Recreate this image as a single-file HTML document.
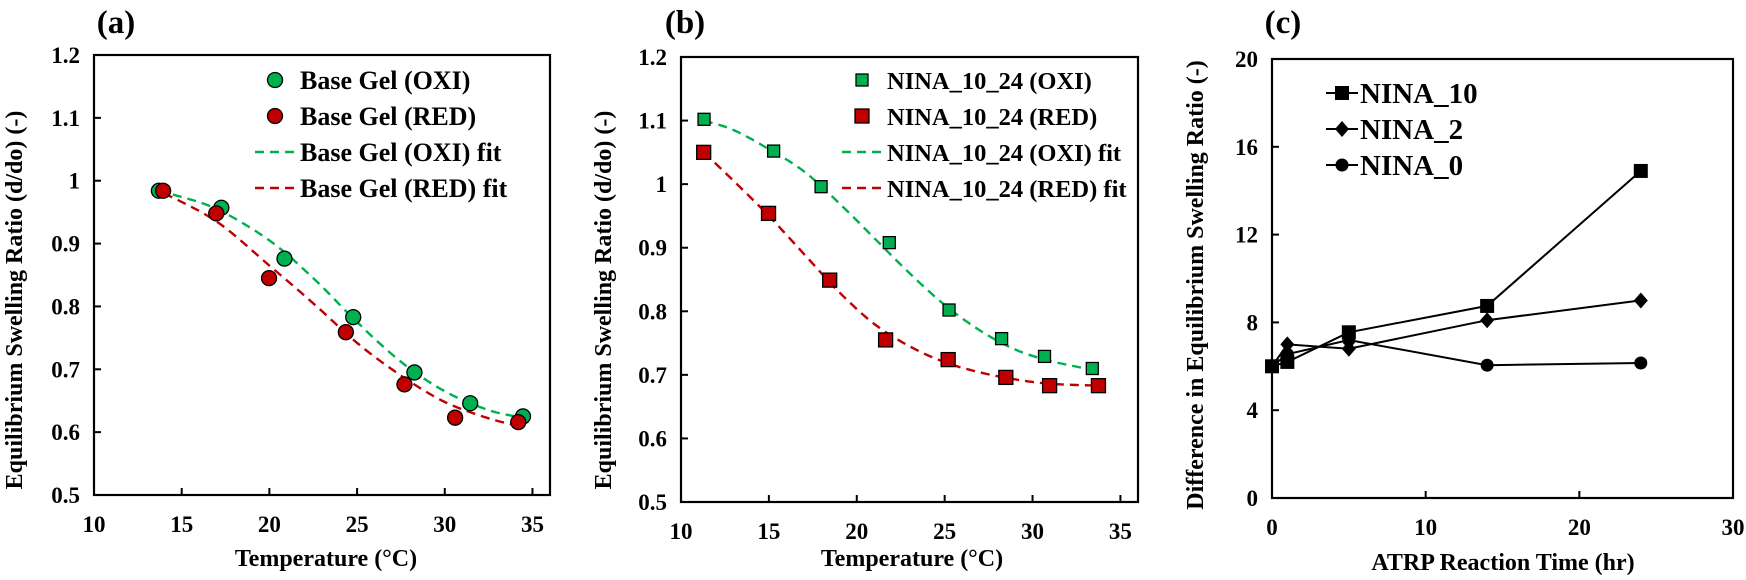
<!DOCTYPE html>
<html><head><meta charset="utf-8"><style>
html,body{margin:0;padding:0;background:#fff;}
svg text{font-family:"Liberation Serif",serif;font-weight:bold;fill:#000;}
</style></head><body>
<svg id="s" width="1746" height="575" viewBox="0 0 1746 575" xmlns="http://www.w3.org/2000/svg">
<text x="116" y="33" font-size="33" text-anchor="middle">(a)</text>
<text x="685" y="33" font-size="33" text-anchor="middle">(b)</text>
<text x="1283" y="33" font-size="33" text-anchor="middle">(c)</text>
<text x="326" y="566" font-size="24" text-anchor="middle">Temperature (°C)</text>
<text x="912" y="566" font-size="24" text-anchor="middle">Temperature (°C)</text>
<text x="1503" y="570" font-size="24" text-anchor="middle">ATRP Reaction Time (hr)</text>
<text transform="translate(22,300) rotate(-90)" font-size="24" text-anchor="middle">Equilibrium Swelling Ratio (d/do) (-)</text>
<text transform="translate(611,300) rotate(-90)" font-size="24" text-anchor="middle">Equilibrium Swelling Ratio (d/do) (-)</text>
<text transform="translate(1203,285) rotate(-90)" font-size="24" text-anchor="middle">Difference in  Equilibrium Swelling Ratio (-)</text>
<g id="g"></g>
</svg>
<script>
var g=document.getElementById('g'),NS='http://www.w3.org/2000/svg';
function el(t,a,txt){var e=document.createElementNS(NS,t);for(var k in a)e.setAttribute(k,a[k]);if(txt!=null)e.textContent=txt;g.appendChild(e);return e;}
function panel(P){
 var X=function(v){return P.l+(v-P.x0)/(P.x1-P.x0)*(P.r-P.l)},Y=function(v){return P.b-(v-P.y0)/(P.y1-P.y0)*(P.b-P.t)};
 P.X=X;P.Y=Y;
 el('rect',{x:P.l,y:P.t,width:P.r-P.l,height:P.b-P.t,fill:'none',stroke:'#000','stroke-width':2.2});
 P.xt.forEach(function(v){var x=X(v);el('line',{x1:x,x2:x,y1:P.b,y2:P.b-7,stroke:'#000','stroke-width':2});el('text',{x:x,y:P.b+37,'font-size':23,'text-anchor':'middle'},v);});
 P.yt.forEach(function(v){var y=Y(v);el('line',{x1:P.l,x2:P.l+7,y1:y,y2:y,stroke:'#000','stroke-width':2});el('text',{x:P.l-14,y:y+8,'font-size':23,'text-anchor':'end'},P.yf(v));});
 return P;}
function fmt(v){v=Math.round(v*10)/10;return v==1?'1':v.toFixed(1);}
function path(P,pts,col,dash){var d=pts.map(function(p,i){return (i?'L':'M')+P.X(p[0]).toFixed(1)+','+P.Y(p[1]).toFixed(1)}).join('');el('path',{d:d,fill:'none',stroke:col,'stroke-width':dash?2.4:2,'stroke-dasharray':dash||''});}
function smooth(pts){var o=[];for(var i=0;i<pts.length-1;i++){var p0=pts[i-1]||pts[i],p1=pts[i],p2=pts[i+1],p3=pts[i+2]||p2;for(var t=0;t<1;t+=0.1){var t2=t*t,t3=t2*t;o.push([0.5*(2*p1[0]+(-p0[0]+p2[0])*t+(2*p0[0]-5*p1[0]+4*p2[0]-p3[0])*t2+(-p0[0]+3*p1[0]-3*p2[0]+p3[0])*t3),0.5*(2*p1[1]+(-p0[1]+p2[1])*t+(2*p0[1]-5*p1[1]+4*p2[1]-p3[1])*t2+(-p0[1]+3*p1[1]-3*p2[1]+p3[1])*t3)]);}}o.push(pts[pts.length-1]);return o;}
var G='#00b050',R='#c00000';
var A=panel({l:94,r:550,t:55,b:495,x0:10,x1:36,y0:0.5,y1:1.2,xt:[10,15,20,25,30,35],yt:[0.5,0.6,0.7,0.8,0.9,1.0,1.1,1.2],yf:fmt});
path(A,smooth([[14.5,0.978],[17,0.955],[20,0.905],[22.5,0.845],[25,0.775],[27.5,0.712],[30,0.665],[32.5,0.635],[34.3,0.624]]),G,'9,6');
path(A,smooth([[14,0.98],[17,0.935],[20,0.865],[22.5,0.805],[25,0.742],[27.5,0.69],[30,0.648],[32.5,0.622],[34.2,0.61]]),R,'9,6');
[[13.7,0.984],[17.26,0.957],[20.86,0.876],[24.78,0.783],[28.27,0.695],[31.45,0.646],[34.46,0.625]].forEach(function(p){el('circle',{cx:A.X(p[0]),cy:A.Y(p[1]),r:7.5,fill:G,stroke:'#000','stroke-width':1.3});});
[[13.94,0.984],[16.97,0.948],[19.98,0.845],[24.36,0.759],[27.7,0.676],[30.59,0.623],[34.19,0.616]].forEach(function(p){el('circle',{cx:A.X(p[0]),cy:A.Y(p[1]),r:7.5,fill:R,stroke:'#000','stroke-width':1.3});});
el('circle',{cx:275,cy:80,r:7.5,fill:G,stroke:'#000','stroke-width':1.3});
el('circle',{cx:275,cy:116,r:7.5,fill:R,stroke:'#000','stroke-width':1.3});
el('line',{x1:255,x2:298,y1:152,y2:152,stroke:G,'stroke-width':2.4,'stroke-dasharray':'9,6'});
el('line',{x1:255,x2:298,y1:188,y2:188,stroke:R,'stroke-width':2.4,'stroke-dasharray':'9,6'});
['Base Gel (OXI)','Base Gel (RED)','Base Gel (OXI) fit','Base Gel (RED) fit'].forEach(function(s,i){el('text',{x:300,y:89+i*36,'font-size':26},s);});
var B=panel({l:681,r:1138,t:57,b:502,x0:10,x1:36,y0:0.5,y1:1.2,xt:[10,15,20,25,30,35],yt:[0.5,0.6,0.7,0.8,0.9,1.0,1.1,1.2],yf:fmt});
path(B,smooth([[11.3,1.1],[13,1.085],[15,1.055],[17,1.02],[19,0.97],[21,0.915],[23,0.86],[25,0.81],[27,0.77],[29,0.74],[31,0.722],[33.4,0.708]]),G,'9,6');
path(B,smooth([[11.3,1.05],[13,1.005],[15,0.95],[17,0.89],[19,0.83],[21,0.78],[23,0.745],[25,0.72],[27,0.704],[29,0.693],[31,0.686],[33.8,0.683]]),R,'9,6');
function sq(x,y,s,f){el('rect',{x:x-s/2,y:y-s/2,width:s,height:s,fill:f,stroke:'#000','stroke-width':1.3});}
[[11.31,1.102],[15.27,1.052],[17.97,0.996],[21.85,0.908],[25.25,0.802],[28.24,0.757],[30.68,0.729],[33.4,0.71]].forEach(function(p){sq(B.X(p[0]),B.Y(p[1]),12,G);});
[[11.29,1.05],[14.98,0.954],[18.46,0.849],[21.64,0.755],[25.2,0.724],[28.48,0.696],[30.97,0.683],[33.75,0.683]].forEach(function(p){sq(B.X(p[0]),B.Y(p[1]),14,R);});
sq(862,80,12,G);sq(862,116,14,R);
el('line',{x1:842,x2:885,y1:152,y2:152,stroke:G,'stroke-width':2.4,'stroke-dasharray':'9,6'});
el('line',{x1:842,x2:885,y1:188,y2:188,stroke:R,'stroke-width':2.4,'stroke-dasharray':'9,6'});
['NINA_10_24 (OXI)','NINA_10_24 (RED)','NINA_10_24 (OXI) fit','NINA_10_24 (RED) fit'].forEach(function(s,i){el('text',{x:887,y:89+i*36,'font-size':24.5},s);});
var C=panel({l:1272,r:1733,t:59,b:498,x0:0,x1:30,y0:0,y1:20,xt:[0,10,20,30],yt:[0,4,8,12,16,20],yf:function(v){return v;}});
function dia(x,y){el('path',{d:'M'+x+','+(y-8)+'L'+(x+7)+','+y+'L'+x+','+(y+8)+'L'+(x-7)+','+y+'Z',fill:'#000'});}
var n10=[[0,6.0],[1,6.2],[5,7.55],[14,8.75],[24,14.9]],n2=[[0,6.0],[1,7.0],[5,6.8],[14,8.1],[24,9.0]],n0=[[0,6.0],[1,6.55],[5,7.2],[14,6.05],[24,6.15]];
path(C,n10,'#000');path(C,n2,'#000');path(C,n0,'#000');
n10.forEach(function(p){el('rect',{x:C.X(p[0])-7,y:C.Y(p[1])-7,width:14,height:14,fill:'#000'});});
n2.forEach(function(p){dia(C.X(p[0]),C.Y(p[1]));});
n0.forEach(function(p){el('circle',{cx:C.X(p[0]),cy:C.Y(p[1]),r:6.5,fill:'#000'});});
[93,129,165].forEach(function(y){el('line',{x1:1326,x2:1358,y1:y,y2:y,stroke:'#000','stroke-width':2});});
el('rect',{x:1335,y:86,width:14,height:14,fill:'#000'});dia(1342,129);el('circle',{cx:1342,cy:165,r:6.5,fill:'#000'});
['NINA_10','NINA_2','NINA_0'].forEach(function(s,i){el('text',{x:1360,y:103+i*36,'font-size':29},s);});
</script>
</body></html>
